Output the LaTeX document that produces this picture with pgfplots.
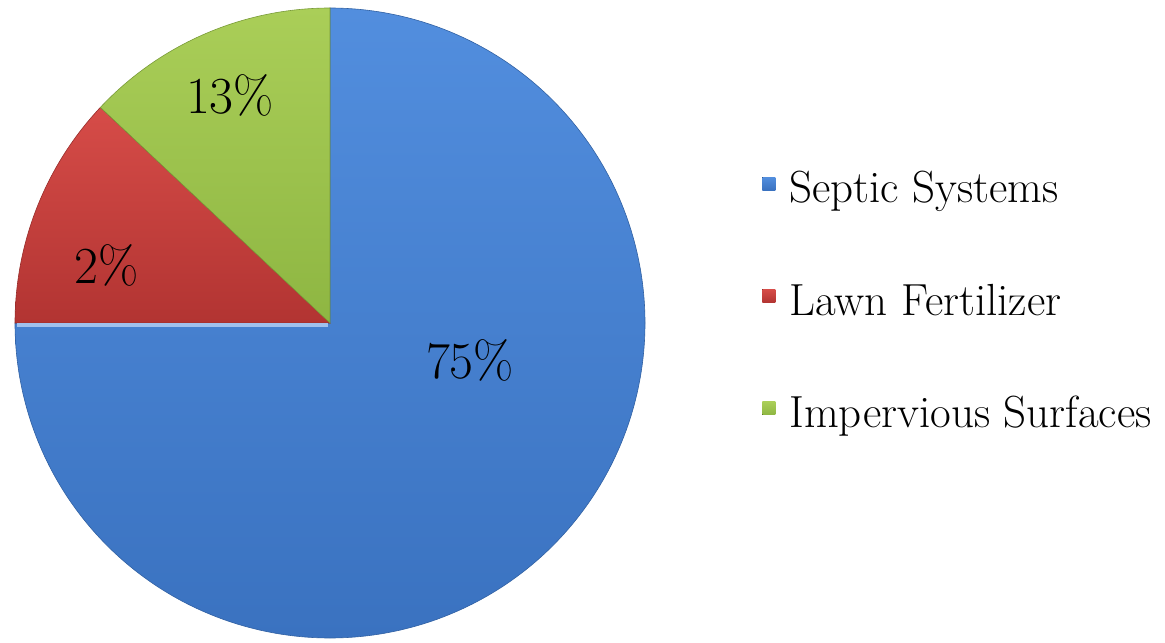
\documentclass[border=0pt]{standalone}
\usepackage{pgfplots}
\pgfplotsset{compat=1.18}
\definecolor{bluetop}{RGB}{82,142,222}
\definecolor{bluebot}{RGB}{58,114,192}
\definecolor{redtop}{RGB}{214,76,72}
\definecolor{redbot}{RGB}{178,52,50}
\definecolor{greentop}{RGB}{170,206,88}
\definecolor{greenbot}{RGB}{142,182,66}
\begin{document}
\begin{tikzpicture}
\path[use as bounding box] (0,0) rectangle (582.5pt,321pt);
\begin{axis}[
  at={(0,0)}, anchor=south west,
  scale only axis, width=582.5pt, height=321pt,
  xmin=0, xmax=1165, ymin=0, ymax=642,
  hide axis, clip=false,
  legend cell align=left,
  legend style={at={(axis cs:756,341)}, anchor=west, draw=none, fill=none,
    font=\fontsize{22.5}{25}\selectfont, row sep=37pt,
    nodes={inner sep=1pt},
    /tikz/every odd column/.append style={column sep=6pt}},
  legend image code/.code={\fill[#1,draw=none] (0pt,-0.75pt) rectangle (6.5pt,5.75pt);},
]
% Septic Systems: 75% (drawn as 270 deg)
\addplot[draw=bluebot!85!black, line width=0.3pt, top color=bluetop, bottom color=bluebot,
  domain=-180:90, samples=271, variable=\t]
  ({330+315*cos(t)},{319+315*sin(t)}) -- (axis cs:330,319) -- cycle;
\addlegendentry{Septic Systems}
% Lawn Fertilizer: 2%
\addplot[draw=redbot!85!black, line width=0.3pt, top color=redtop, bottom color=redbot,
  domain=136.8:180, samples=45, variable=\t]
  ({330+315*cos(t)},{319+315*sin(t)}) -- (axis cs:330,319) -- cycle;
\addlegendentry{Lawn Fertilizer}
% Impervious Surfaces: 13%
\addplot[draw=greenbot!85!black, line width=0.3pt, top color=greentop, bottom color=greenbot,
  domain=90:136.8, samples=48, variable=\t]
  ({330+315*cos(t)},{319+315*sin(t)}) -- (axis cs:330,319) -- cycle;
\addlegendentry{Impervious Surfaces}
\draw[color=bluetop!55!white, line width=2pt] (axis cs:17,317) -- (axis cs:328,317);
\node[font=\fontsize{26}{30}\selectfont] at (axis cs:470,282) {75\%};
\node[font=\fontsize{26}{30}\selectfont] at (axis cs:107,377) {2\%};
\node[font=\fontsize{26}{30}\selectfont] at (axis cs:230,547) {13\%};
\end{axis}
\end{tikzpicture}
\end{document}
